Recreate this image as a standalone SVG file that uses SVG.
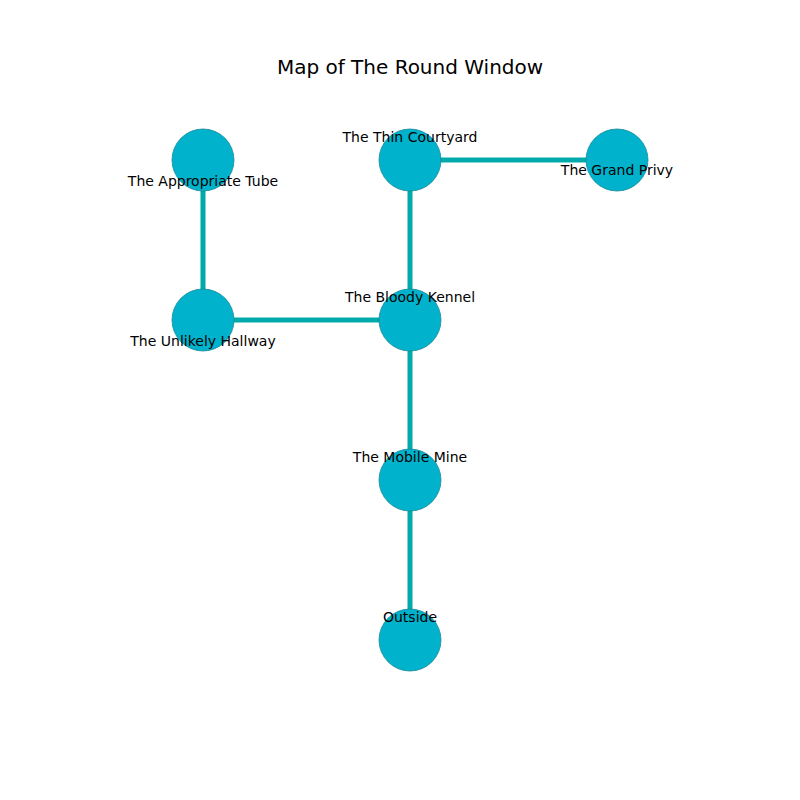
<svg xmlns="http://www.w3.org/2000/svg" width="800" height="800" viewBox="0 0 800 800">
<style>
.node circle{fill:#00b2cb;stroke:#1a8a99;stroke-width:0.8}
.edges line{stroke:#00aaaa;stroke-width:5}
text{font-family:"DejaVu Sans",sans-serif;fill:#000}
.lbl{font-size:14px;text-anchor:middle}
.title{font-size:20px;text-anchor:middle}
</style>
<rect width="800" height="800" fill="#fff"/>
<text class="title" x="410" y="74">Map of The Round Window</text>
<g class="edges">
<line x1="203" y1="160" x2="203" y2="320"/>
<line x1="203" y1="320" x2="410" y2="320"/>
<line x1="410" y1="160" x2="617" y2="160"/>
<line x1="410" y1="160" x2="410" y2="320"/>
<line x1="410" y1="320" x2="410" y2="480"/>
<line x1="410" y1="480" x2="410" y2="640"/>
</g>
<g id="appropriate-tube" class="node"><circle cx="203" cy="160" r="31"/><text class="lbl" x="203" y="186">The Appropriate Tube</text></g>
<g id="thin-courtyard" class="node"><circle cx="410" cy="160" r="31"/><text class="lbl" x="410" y="142">The Thin Courtyard</text></g>
<g id="grand-privy" class="node"><circle cx="617" cy="160" r="31"/><text class="lbl" x="617" y="175">The Grand Privy</text></g>
<g id="unlikely-hallway" class="node"><circle cx="203" cy="320" r="31"/><text class="lbl" x="203" y="346">The Unlikely Hallway</text></g>
<g id="bloody-kennel" class="node"><circle cx="410" cy="320" r="31"/><text class="lbl" x="410" y="302">The Bloody Kennel</text></g>
<g id="mobile-mine" class="node"><circle cx="410" cy="480" r="31"/><text class="lbl" x="410" y="462">The Mobile Mine</text></g>
<g id="outside" class="node"><circle cx="410" cy="640" r="31"/><text class="lbl" x="410" y="622">Outside</text></g>
</svg>
